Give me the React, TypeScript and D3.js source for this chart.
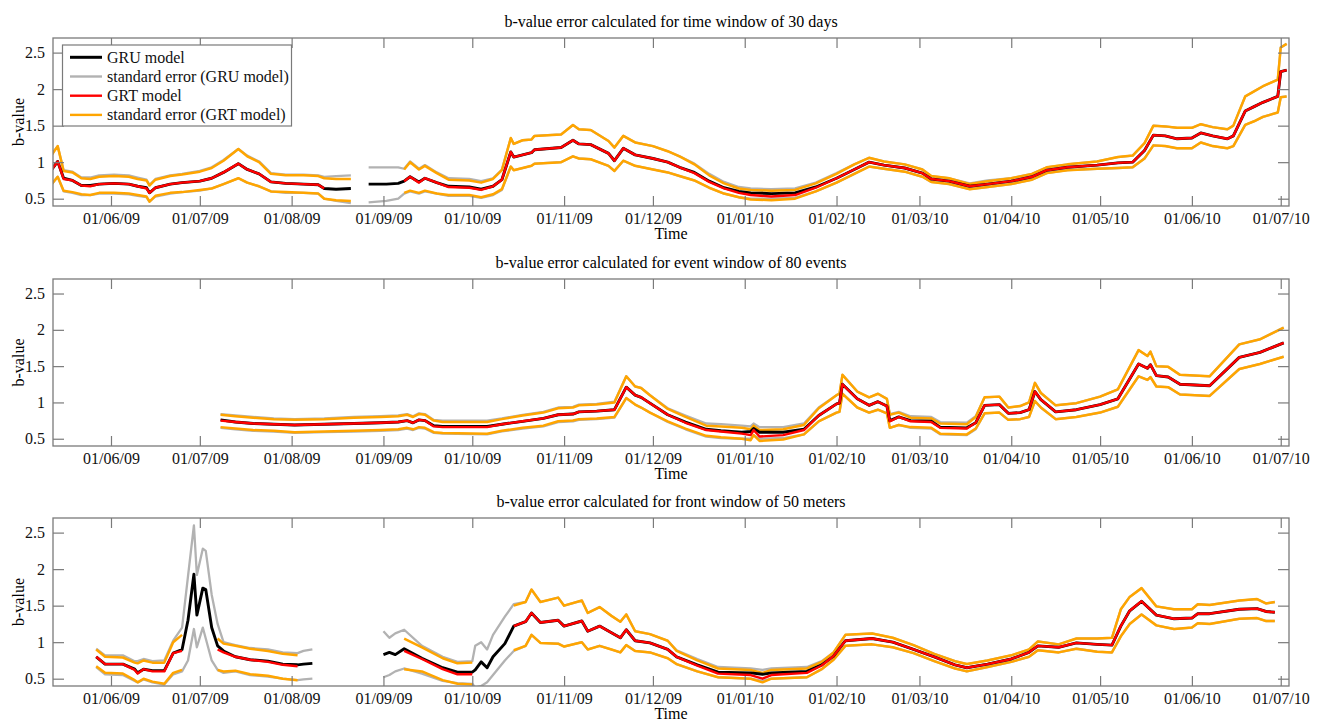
import React, { useEffect, useRef } from "react";
import * as d3 from "d3";

// x tick labels (dd/mm/yy) and y ticks shared by the three panels
const xTickLabels = ["01/06/09", "01/07/09", "01/08/09", "01/09/09", "01/10/09", "01/11/09", "01/12/09",
  "01/01/10", "01/02/10", "01/03/10", "01/04/10", "01/05/10", "01/06/10", "01/07/10"];
const yTicks = [0.5, 1, 1.5, 2, 2.5];
const titles = [
  "b-value error calculated for time window of 30 days",
  "b-value error calculated for event window of 80 events",
  "b-value error calculated for front window of 50 meters",
];
const legendLabels = ["GRU model", "standard error (GRU model)", "GRT model", "standard error (GRT model)"];

// ---------- panel 1 : time window of 30 days ----------
const p1Dates = [
  "2009-05-12", "2009-05-14", "2009-05-16", "2009-05-19", "2009-05-22", "2009-05-25", "2009-05-28", "2009-06-02", "2009-06-07", "2009-06-10",
  "2009-06-13", "2009-06-14", "2009-06-16", "2009-06-21", "2009-06-25", "2009-07-01", "2009-07-05", "2009-07-09", "2009-07-14", "2009-07-17",
  "2009-07-21", "2009-07-25", "2009-07-30", "2009-08-05", "2009-08-10", "2009-08-12", "2009-08-16", "2009-08-21", "2009-08-24", "2009-08-27",
  "2009-09-02", "2009-09-06", "2009-09-08", "2009-09-10", "2009-09-13", "2009-09-15", "2009-09-19", "2009-09-23", "2009-09-30", "2009-10-04",
  "2009-10-08", "2009-10-11", "2009-10-14", "2009-10-15", "2009-10-18", "2009-10-21", "2009-10-22", "2009-10-31", "2009-11-04", "2009-11-06",
  "2009-11-10", "2009-11-16", "2009-11-18", "2009-11-21", "2009-11-25", "2009-12-01", "2009-12-06", "2009-12-10", "2009-12-15", "2009-12-20",
  "2009-12-25", "2009-12-30", "2010-01-03", "2010-01-10", "2010-01-18", "2010-01-25", "2010-02-01", "2010-02-07", "2010-02-12", "2010-02-17",
  "2010-02-24", "2010-03-02", "2010-03-05", "2010-03-11", "2010-03-18", "2010-03-24", "2010-04-01", "2010-04-08", "2010-04-13", "2010-04-20",
  "2010-04-30", "2010-05-07", "2010-05-12", "2010-05-16", "2010-05-19", "2010-05-23", "2010-05-27", "2010-06-01", "2010-06-04", "2010-06-08",
  "2010-06-13", "2010-06-15", "2010-06-19", "2010-06-22", "2010-06-25", "2010-06-30", "2010-07-01", "2010-07-03",
];
const p1Grt = [
  0.90, 1.01, 0.77, 0.75, 0.68, 0.67, 0.70, 0.71, 0.70, 0.67,
  0.64, 0.58, 0.65, 0.70, 0.72, 0.74, 0.78, 0.86, 0.98, 0.90,
  0.84, 0.73, 0.71, 0.70, 0.69, 0.64, null, null, null, null,
  null, null, 0.74, 0.80, 0.72, 0.78, 0.72, 0.66, 0.65, 0.62,
  0.67, 0.76, 1.14, 1.07, 1.10, 1.13, 1.17, 1.20, 1.30, 1.25,
  1.24, 1.12, 1.02, 1.19, 1.10, 1.05, 1.00, 0.93, 0.85, 0.73,
  0.64, 0.58, 0.55, 0.53, 0.55, 0.65, 0.78, 0.90, 1.00, 0.96,
  0.92, 0.85, 0.77, 0.74, 0.67, 0.70, 0.74, 0.80, 0.89, 0.93,
  0.96, 0.99, 1.00, 1.16, 1.37, 1.36, 1.32, 1.33, 1.40, 1.36,
  1.32, 1.36, 1.70, 1.76, 1.82, 1.90, 2.24, 2.26,
];
const p1GrtHi = [
  1.10, 1.22, 0.88, 0.86, 0.78, 0.77, 0.80, 0.81, 0.80, 0.77,
  0.75, 0.68, 0.76, 0.81, 0.83, 0.87, 0.92, 1.02, 1.18, 1.08,
  1.00, 0.84, 0.82, 0.82, 0.81, 0.78, 0.77, 0.77, null, null,
  null, null, 0.90, 1.00, 0.90, 0.95, 0.85, 0.76, 0.75, 0.72,
  0.77, 0.89, 1.33, 1.25, 1.30, 1.31, 1.36, 1.38, 1.51, 1.45,
  1.44, 1.29, 1.20, 1.36, 1.27, 1.22, 1.15, 1.08, 0.97, 0.82,
  0.71, 0.64, 0.62, 0.61, 0.62, 0.71, 0.84, 0.97, 1.06, 1.01,
  0.97, 0.90, 0.81, 0.78, 0.70, 0.74, 0.78, 0.84, 0.93, 0.97,
  1.01, 1.07, 1.09, 1.26, 1.50, 1.49, 1.47, 1.47, 1.52, 1.48,
  1.45, 1.50, 1.90, 1.97, 2.04, 2.13, 2.57, 2.62,
];
const p1GrtLo = [
  0.70, 0.80, 0.61, 0.59, 0.56, 0.55, 0.58, 0.58, 0.57, 0.55,
  0.53, 0.46, 0.54, 0.58, 0.59, 0.62, 0.64, 0.70, 0.78, 0.72,
  0.67, 0.60, 0.59, 0.58, 0.57, 0.50, 0.48, 0.47, null, null,
  null, null, 0.58, 0.61, 0.58, 0.61, 0.57, 0.55, 0.55, 0.52,
  0.56, 0.63, 0.94, 0.89, 0.92, 0.95, 0.98, 1.00, 1.08, 1.05,
  1.04, 0.95, 0.88, 1.02, 0.95, 0.90, 0.86, 0.81, 0.75, 0.65,
  0.57, 0.52, 0.49, 0.48, 0.50, 0.60, 0.72, 0.84, 0.94, 0.91,
  0.87, 0.80, 0.73, 0.70, 0.63, 0.66, 0.70, 0.76, 0.85, 0.89,
  0.91, 0.92, 0.93, 1.05, 1.23, 1.22, 1.19, 1.19, 1.27, 1.22,
  1.19, 1.22, 1.51, 1.56, 1.62, 1.68, 1.89, 1.90,
];
const p1Gru = [
  0.90, 1.01, 0.78, 0.75, 0.68, 0.68, 0.70, 0.71, 0.70, 0.67,
  0.65, 0.58, 0.65, 0.70, 0.72, 0.74, 0.78, 0.86, 0.98, 0.90,
  0.84, 0.73, 0.71, 0.70, 0.69, 0.64, 0.63, 0.64, null, 0.70,
  0.70, 0.71, 0.74, 0.80, 0.73, 0.78, 0.72, 0.67, 0.66, 0.63,
  0.67, 0.76, 1.14, 1.07, 1.10, 1.13, 1.17, 1.20, 1.30, 1.25,
  1.24, 1.12, 1.02, 1.19, 1.10, 1.05, 1.00, 0.93, 0.86, 0.74,
  0.65, 0.60, 0.58, 0.57, 0.58, 0.66, 0.78, 0.90, 1.00, 0.96,
  0.92, 0.85, 0.77, 0.74, 0.67, 0.70, 0.74, 0.80, 0.89, 0.93,
  0.96, 0.99, 1.00, 1.16, 1.37, 1.36, 1.32, 1.33, 1.40, 1.36,
  1.32, 1.36, 1.70, 1.76, 1.82, 1.90, 2.24, 2.26,
];
const p1GruHi = [
  1.11, 1.22, 0.89, 0.87, 0.79, 0.79, 0.82, 0.83, 0.82, 0.79,
  0.76, 0.69, 0.77, 0.82, 0.84, 0.88, 0.93, 1.03, 1.18, 1.09,
  1.01, 0.85, 0.83, 0.83, 0.82, 0.80, 0.81, 0.82, null, 0.93,
  0.93, 0.93, 0.91, 1.01, 0.91, 0.96, 0.86, 0.78, 0.77, 0.74,
  0.78, 0.90, 1.33, 1.25, 1.30, 1.31, 1.36, 1.38, 1.51, 1.45,
  1.44, 1.29, 1.20, 1.36, 1.27, 1.22, 1.15, 1.08, 0.98, 0.84,
  0.73, 0.66, 0.64, 0.63, 0.64, 0.72, 0.85, 0.97, 1.06, 1.01,
  0.97, 0.90, 0.81, 0.78, 0.71, 0.75, 0.78, 0.84, 0.93, 0.97,
  1.01, 1.07, 1.09, 1.26, 1.50, 1.49, 1.47, 1.47, 1.52, 1.48,
  1.45, 1.50, 1.90, 1.97, 2.04, 2.13, 2.57, 2.62,
];
const p1GruLo = [
  0.70, 0.80, 0.60, 0.58, 0.55, 0.55, 0.57, 0.57, 0.56, 0.54,
  0.52, 0.46, 0.53, 0.57, 0.59, 0.61, 0.64, 0.70, 0.78, 0.72,
  0.67, 0.60, 0.58, 0.58, 0.57, 0.50, 0.47, 0.44, null, 0.45,
  0.47, 0.50, 0.57, 0.60, 0.57, 0.60, 0.57, 0.54, 0.54, 0.51,
  0.55, 0.62, 0.94, 0.89, 0.92, 0.95, 0.98, 1.00, 1.08, 1.05,
  1.04, 0.95, 0.88, 1.02, 0.95, 0.90, 0.86, 0.81, 0.75, 0.65,
  0.57, 0.52, 0.50, 0.50, 0.51, 0.60, 0.72, 0.84, 0.94, 0.91,
  0.87, 0.80, 0.73, 0.70, 0.63, 0.66, 0.70, 0.76, 0.85, 0.89,
  0.91, 0.92, 0.93, 1.05, 1.23, 1.22, 1.19, 1.19, 1.27, 1.22,
  1.19, 1.22, 1.51, 1.56, 1.62, 1.68, 1.89, 1.90,
];

// ---------- panel 2 : event window of 80 events ----------
const p2Dates = [
  "2009-07-08", "2009-07-13", "2009-07-19", "2009-07-26", "2009-08-02", "2009-08-12", "2009-08-22", "2009-08-31", "2009-09-06", "2009-09-09",
  "2009-09-11", "2009-09-13", "2009-09-15", "2009-09-18", "2009-09-21", "2009-10-06", "2009-10-11", "2009-10-18", "2009-10-25", "2009-10-30",
  "2009-11-04", "2009-11-06", "2009-11-12", "2009-11-18", "2009-11-22", "2009-11-25", "2009-11-27", "2009-11-30", "2009-12-06", "2009-12-12",
  "2009-12-19", "2009-12-24", "2009-12-31", "2010-01-03", "2010-01-04", "2010-01-06", "2010-01-14", "2010-01-21", "2010-01-26", "2010-02-01",
  "2010-02-02", "2010-02-03", "2010-02-08", "2010-02-12", "2010-02-15", "2010-02-18", "2010-02-19", "2010-02-22", "2010-02-26", "2010-03-05",
  "2010-03-08", "2010-03-17", "2010-03-20", "2010-03-23", "2010-03-28", "2010-03-31", "2010-04-04", "2010-04-07", "2010-04-09", "2010-04-11",
  "2010-04-16", "2010-04-23", "2010-05-01", "2010-05-07", "2010-05-14", "2010-05-17", "2010-05-18", "2010-05-20", "2010-05-24", "2010-05-28",
  "2010-06-07", "2010-06-17", "2010-06-24", "2010-07-02",
];
const p2Grt = [
  0.75, 0.73, 0.71, 0.70, 0.69, 0.70, 0.71, 0.72, 0.73, 0.75,
  0.72, 0.76, 0.75, 0.67, 0.66, 0.66, 0.70, 0.74, 0.78, 0.83,
  0.84, 0.87, 0.88, 0.90, 1.21, 1.10, 1.07, 0.99, 0.83, 0.72,
  0.62, 0.60, 0.57, 0.55, 0.62, 0.53, 0.55, 0.62, 0.82, 0.98,
  0.99, 1.25, 1.05, 0.96, 1.01, 0.95, 0.74, 0.80, 0.74, 0.73,
  0.65, 0.64, 0.72, 0.96, 0.97, 0.85, 0.86, 0.90, 1.15, 1.04,
  0.87, 0.90, 0.97, 1.05, 1.53, 1.47, 1.52, 1.37, 1.35, 1.25,
  1.23, 1.62, 1.69, 1.82,
];
const p2GrtHi = [
  0.83, 0.81, 0.79, 0.77, 0.76, 0.77, 0.79, 0.80, 0.81, 0.83,
  0.80, 0.84, 0.83, 0.75, 0.73, 0.73, 0.77, 0.82, 0.86, 0.92,
  0.93, 0.96, 0.97, 1.00, 1.36, 1.22, 1.20, 1.10, 0.91, 0.80,
  0.68, 0.67, 0.65, 0.63, 0.68, 0.62, 0.63, 0.69, 0.92, 1.10,
  1.12, 1.38, 1.15, 1.07, 1.12, 1.05, 0.83, 0.86, 0.79, 0.78,
  0.71, 0.70, 0.80, 1.07, 1.08, 0.93, 0.95, 1.00, 1.27, 1.13,
  0.96, 0.99, 1.08, 1.18, 1.72, 1.64, 1.70, 1.50, 1.49, 1.38,
  1.36, 1.80, 1.87, 2.03,
];
const p2GrtLo = [
  0.66, 0.64, 0.62, 0.61, 0.59, 0.60, 0.61, 0.62, 0.63, 0.65,
  0.63, 0.66, 0.65, 0.59, 0.58, 0.57, 0.61, 0.65, 0.68, 0.74,
  0.75, 0.77, 0.78, 0.80, 1.06, 0.97, 0.93, 0.86, 0.74, 0.64,
  0.54, 0.52, 0.50, 0.48, 0.55, 0.47, 0.49, 0.56, 0.74, 0.86,
  0.87, 1.12, 0.93, 0.86, 0.90, 0.85, 0.65, 0.69, 0.66, 0.65,
  0.57, 0.56, 0.64, 0.85, 0.86, 0.76, 0.77, 0.80, 1.02, 0.93,
  0.77, 0.80, 0.86, 0.94, 1.36, 1.31, 1.35, 1.22, 1.21, 1.11,
  1.09, 1.46, 1.53, 1.63,
];
const p2Gru = [
  0.76, 0.73, 0.71, 0.70, 0.69, 0.70, 0.71, 0.72, 0.73, 0.75,
  0.72, 0.76, 0.75, 0.68, 0.67, 0.67, 0.70, 0.74, 0.78, 0.83,
  0.84, 0.87, 0.88, 0.90, 1.21, 1.10, 1.07, 0.99, 0.83, 0.73,
  0.63, 0.61, 0.59, 0.60, 0.64, 0.59, 0.59, 0.63, 0.82, 0.98,
  0.99, 1.25, 1.05, 0.96, 1.01, 0.95, 0.75, 0.80, 0.75, 0.74,
  0.66, 0.65, 0.72, 0.96, 0.97, 0.85, 0.86, 0.90, 1.15, 1.04,
  0.87, 0.90, 0.97, 1.05, 1.53, 1.47, 1.52, 1.37, 1.35, 1.25,
  1.23, 1.62, 1.69, 1.82,
];
const p2GruHi = [
  0.84, 0.82, 0.80, 0.78, 0.77, 0.78, 0.80, 0.81, 0.82, 0.84,
  0.81, 0.85, 0.84, 0.76, 0.75, 0.75, 0.78, 0.83, 0.87, 0.93,
  0.94, 0.97, 0.98, 1.01, 1.36, 1.22, 1.20, 1.10, 0.92, 0.82,
  0.71, 0.70, 0.68, 0.67, 0.71, 0.66, 0.66, 0.71, 0.93, 1.10,
  1.12, 1.38, 1.15, 1.07, 1.12, 1.05, 0.84, 0.87, 0.81, 0.80,
  0.73, 0.72, 0.81, 1.07, 1.08, 0.93, 0.95, 1.00, 1.27, 1.13,
  0.96, 0.99, 1.08, 1.18, 1.72, 1.64, 1.70, 1.50, 1.49, 1.38,
  1.36, 1.80, 1.87, 2.03,
];
const p2GruLo = [
  0.65, 0.63, 0.61, 0.60, 0.58, 0.59, 0.60, 0.61, 0.62, 0.64,
  0.62, 0.65, 0.64, 0.58, 0.57, 0.56, 0.60, 0.64, 0.67, 0.73,
  0.74, 0.76, 0.77, 0.79, 1.06, 0.97, 0.93, 0.86, 0.73, 0.63,
  0.53, 0.51, 0.50, 0.50, 0.55, 0.50, 0.51, 0.56, 0.74, 0.86,
  0.87, 1.12, 0.93, 0.86, 0.90, 0.85, 0.65, 0.69, 0.65, 0.64,
  0.56, 0.55, 0.63, 0.85, 0.86, 0.76, 0.77, 0.80, 1.02, 0.93,
  0.77, 0.80, 0.86, 0.94, 1.36, 1.31, 1.35, 1.22, 1.21, 1.11,
  1.09, 1.46, 1.53, 1.63,
];

// ---------- panel 3 : front window of 50 meters ----------
const p3Dates = [
  "2009-05-27", "2009-05-30", "2009-06-05", "2009-06-09", "2009-06-10", "2009-06-12", "2009-06-15", "2009-06-19", "2009-06-22", "2009-06-25",
  "2009-06-27", "2009-06-29", "2009-06-30", "2009-07-02", "2009-07-03", "2009-07-05", "2009-07-07", "2009-07-09", "2009-07-13", "2009-07-18",
  "2009-07-24", "2009-07-29", "2009-08-03", "2009-08-05", "2009-08-08", "2009-08-20", "2009-09-01", "2009-09-03", "2009-09-05", "2009-09-08",
  "2009-09-14", "2009-09-21", "2009-09-26", "2009-10-01", "2009-10-02", "2009-10-04", "2009-10-06", "2009-10-08", "2009-10-12", "2009-10-15",
  "2009-10-19", "2009-10-21", "2009-10-24", "2009-10-30", "2009-11-01", "2009-11-07", "2009-11-09", "2009-11-13", "2009-11-17", "2009-11-20",
  "2009-11-22", "2009-11-25", "2009-11-30", "2009-12-06", "2009-12-09", "2009-12-16", "2009-12-23", "2010-01-03", "2010-01-07", "2010-01-10",
  "2010-01-22", "2010-01-27", "2010-01-31", "2010-02-04", "2010-02-13", "2010-02-20", "2010-02-27", "2010-03-06", "2010-03-13", "2010-03-17",
  "2010-03-24", "2010-04-01", "2010-04-07", "2010-04-10", "2010-04-17", "2010-04-23", "2010-04-30", "2010-05-05", "2010-05-08", "2010-05-11",
  "2010-05-15", "2010-05-20", "2010-05-26", "2010-06-01", "2010-06-03", "2010-06-07", "2010-06-17", "2010-06-23", "2010-06-26", "2010-06-29",
];
const p3Grt = [
  0.80, 0.70, 0.70, 0.62, 0.57, 0.63, 0.60, 0.60, 0.85, 0.88,
  null, null, null, null, null, null, 0.90, 0.86, 0.80, 0.76,
  0.73, 0.69, 0.67, null, null, null, null, null, null, 0.88,
  0.77, 0.63, 0.56, 0.56, null, null, null, null, null, 1.22,
  1.28, 1.40, 1.27, 1.30, 1.22, 1.29, 1.15, 1.22, 1.13, 1.06,
  1.17, 1.02, 0.99, 0.90, 0.80, 0.68, 0.57, 0.55, 0.50, 0.55,
  0.58, 0.68, 0.81, 1.02, 1.05, 1.00, 0.90, 0.80, 0.69, 0.65,
  0.70, 0.77, 0.86, 0.95, 0.93, 0.99, 0.97, 0.96, 1.22, 1.43,
  1.56, 1.37, 1.32, 1.33, 1.39, 1.39, 1.45, 1.46, 1.42, 1.41,
];
const p3GrtHi = [
  0.90, 0.80, 0.79, 0.72, 0.71, 0.75, 0.72, 0.72, 1.00, 1.10,
  null, null, null, null, null, null, 1.05, 0.98, 0.95, 0.91,
  0.88, 0.84, 0.82, null, null, null, null, null, null, 1.05,
  0.93, 0.78, 0.71, 0.72, null, null, null, null, null, 1.50,
  1.55, 1.72, 1.55, 1.61, 1.50, 1.57, 1.40, 1.48, 1.36, 1.28,
  1.38, 1.15, 1.11, 1.02, 0.88, 0.75, 0.64, 0.62, 0.58, 0.62,
  0.64, 0.73, 0.86, 1.10, 1.12, 1.06, 0.96, 0.84, 0.74, 0.70,
  0.75, 0.82, 0.90, 1.01, 0.97, 1.05, 1.05, 1.06, 1.45, 1.62,
  1.74, 1.49, 1.45, 1.45, 1.52, 1.51, 1.57, 1.59, 1.53, 1.55,
];
const p3GrtLo = [
  0.67, 0.58, 0.57, 0.48, 0.45, 0.50, 0.46, 0.43, 0.58, 0.62,
  null, null, null, null, null, null, 0.62, 0.60, 0.61, 0.56,
  0.54, 0.50, 0.48, null, null, null, null, null, null, 0.63,
  0.60, 0.48, 0.43, 0.42, null, null, null, null, null, 0.89,
  0.95, 1.10, 0.99, 0.98, 0.94, 1.00, 0.90, 0.95, 0.90, 0.86,
  0.96, 0.88, 0.86, 0.78, 0.70, 0.60, 0.52, 0.50, 0.45, 0.50,
  0.52, 0.63, 0.76, 0.95, 0.97, 0.93, 0.85, 0.74, 0.64, 0.60,
  0.66, 0.73, 0.80, 0.89, 0.86, 0.91, 0.87, 0.86, 1.08, 1.25,
  1.38, 1.23, 1.18, 1.20, 1.26, 1.25, 1.32, 1.33, 1.29, 1.29,
];
const p3Gru = [
  0.80, 0.70, 0.70, 0.63, 0.58, 0.63, 0.61, 0.61, 0.85, 0.90,
  1.30, 1.93, 1.37, 1.74, 1.72, 1.20, 0.95, 0.88, 0.80, 0.76,
  0.74, 0.70, 0.69, 0.70, 0.71, null, 0.83, 0.86, 0.83, 0.91,
  0.78, 0.65, 0.59, 0.59, 0.62, 0.73, 0.65, 0.80, 0.98, 1.22,
  1.28, 1.40, 1.27, 1.30, 1.22, 1.29, 1.15, 1.22, 1.13, 1.06,
  1.17, 1.02, 0.99, 0.90, 0.80, 0.69, 0.59, 0.58, 0.56, 0.58,
  0.60, 0.69, 0.81, 1.02, 1.05, 1.00, 0.90, 0.80, 0.69, 0.65,
  0.70, 0.77, 0.86, 0.95, 0.93, 0.99, 0.97, 0.96, 1.22, 1.43,
  1.56, 1.37, 1.32, 1.33, 1.39, 1.39, 1.45, 1.46, 1.42, 1.41,
];
const p3GruHi = [
  0.91, 0.82, 0.82, 0.74, 0.74, 0.77, 0.74, 0.75, 1.02, 1.20,
  1.90, 2.60, 1.92, 2.28, 2.25, 1.65, 1.25, 1.00, 0.96, 0.92,
  0.90, 0.86, 0.85, 0.88, 0.90, null, 1.15, 1.06, 1.12, 1.17,
  0.95, 0.80, 0.73, 0.74, 0.95, 1.00, 0.90, 1.10, 1.35, 1.52,
  1.55, 1.72, 1.55, 1.61, 1.50, 1.57, 1.40, 1.48, 1.36, 1.28,
  1.38, 1.15, 1.11, 1.02, 0.89, 0.77, 0.66, 0.64, 0.62, 0.64,
  0.66, 0.74, 0.86, 1.10, 1.12, 1.06, 0.96, 0.84, 0.74, 0.70,
  0.75, 0.82, 0.90, 1.01, 0.97, 1.05, 1.05, 1.06, 1.45, 1.62,
  1.74, 1.49, 1.45, 1.45, 1.52, 1.51, 1.57, 1.59, 1.53, 1.55,
];
const p3GruLo = [
  0.66, 0.56, 0.55, 0.47, 0.45, 0.49, 0.45, 0.42, 0.56, 0.60,
  0.75, 1.18, 0.93, 1.20, 1.05, 0.75, 0.62, 0.58, 0.60, 0.55,
  0.53, 0.50, 0.48, 0.49, 0.50, null, 0.52, 0.55, 0.60, 0.64,
  0.57, 0.47, 0.44, 0.43, 0.38, 0.40, 0.45, 0.55, 0.75, 0.88,
  0.95, 1.10, 0.99, 0.98, 0.94, 1.00, 0.90, 0.95, 0.90, 0.86,
  0.96, 0.88, 0.86, 0.78, 0.70, 0.60, 0.52, 0.50, 0.47, 0.50,
  0.52, 0.63, 0.76, 0.95, 0.97, 0.93, 0.85, 0.74, 0.64, 0.60,
  0.66, 0.73, 0.80, 0.89, 0.86, 0.91, 0.87, 0.86, 1.08, 1.25,
  1.38, 1.23, 1.18, 1.20, 1.26, 1.25, 1.32, 1.33, 1.29, 1.29,
];

const FONT = "'Times New Roman', 'Liberation Serif', serif";
const AXIS = "#7a7a7a";
const GRAY = "#b2b2b2";
const ORANGE = "#ffa500";
const RED = "#ff0000";

const App = () => {
  const svgRef = useRef<SVGSVGElement>(null);

  useEffect(() => {
    const svg = d3.select(svgRef.current);
    svg.selectAll("*").remove();

    const parseDay = d3.timeParse("%Y-%m-%d");
    const parseTick = d3.timeParse("%d/%m/%y");
    const tickDates = xTickLabels.map((s) => parseTick(s) as Date);

    const left = 53, right = 1289;
    const x = d3.scaleTime()
      .domain([new Date(2009, 4, 12, 10), new Date(2010, 6, 3, 19)])
      .range([left, right]);

    const panels = [
      { top: 38, bottom: 206, dates: p1Dates, gru: p1Gru, gruHi: p1GruHi, gruLo: p1GruLo, grt: p1Grt, grtHi: p1GrtHi, grtLo: p1GrtLo },
      { top: 279, bottom: 446, dates: p2Dates, gru: p2Gru, gruHi: p2GruHi, gruLo: p2GruLo, grt: p2Grt, grtHi: p2GrtHi, grtLo: p2GrtLo },
      { top: 518, bottom: 686, dates: p3Dates, gru: p3Gru, gruHi: p3GruHi, gruLo: p3GruLo, grt: p3Grt, grtHi: p3GrtHi, grtLo: p3GrtLo },
    ];

    panels.forEach((p, i) => {
      const y = d3.scaleLinear().domain([0.4, 2.7]).range([p.bottom, p.top]);
      const g = svg.append("g");
      const dates = p.dates.map((s) => parseDay(s) as Date);

      // clip the curves to the plot box
      g.append("clipPath")
        .attr("id", `clip${i}`)
        .append("rect")
        .attr("x", left)
        .attr("y", p.top)
        .attr("width", right - left)
        .attr("height", p.bottom - p.top);

      const line = d3.line<number | null>()
        .defined((d) => d != null)
        .x((d, k) => x(dates[k]))
        .y((d) => y(d as number));

      const series = [
        { v: p.gruHi, color: GRAY, w: 2.3 },
        { v: p.gruLo, color: GRAY, w: 2.3 },
        { v: p.grtHi, color: ORANGE, w: 2.5 },
        { v: p.grtLo, color: ORANGE, w: 2.5 },
        { v: p.gru, color: "#000", w: 2.9 },
        { v: p.grt, color: RED, w: 2.4 },
      ];
      const lines = g.append("g").attr("clip-path", `url(#clip${i})`);
      series.forEach((s) => {
        lines.append("path")
          .attr("d", line(s.v))
          .attr("fill", "none")
          .attr("stroke", s.color)
          .attr("stroke-width", s.w)
          .attr("stroke-linejoin", "round");
      });

      // axes: ticks point inward, box drawn separately
      const styleAxis = (a) => {
        a.select(".domain").remove();
        a.selectAll("line").attr("stroke", AXIS).attr("stroke-width", 1.2);
        a.attr("font-family", FONT).attr("font-size", 16);
        a.selectAll("text").attr("fill", "#111");
      };
      g.append("g")
        .attr("transform", `translate(0,${p.bottom})`)
        .call(d3.axisBottom(x).tickValues(tickDates).tickFormat(d3.timeFormat("%d/%m/%y")).tickSize(-10).tickPadding(7))
        .call(styleAxis);
      g.append("g")
        .attr("transform", `translate(0,${p.top})`)
        .call(d3.axisTop(x).tickValues(tickDates).tickFormat(() => "").tickSize(-10))
        .call(styleAxis);
      g.append("g")
        .attr("transform", `translate(${left},0)`)
        .call(d3.axisLeft(y).tickValues(yTicks).tickFormat(d3.format("")).tickSize(-11).tickPadding(8))
        .call(styleAxis);
      g.append("g")
        .attr("transform", `translate(${right},0)`)
        .call(d3.axisRight(y).tickValues(yTicks).tickFormat(() => "").tickSize(-11))
        .call(styleAxis);

      g.append("rect")
        .attr("x", left)
        .attr("y", p.top)
        .attr("width", right - left)
        .attr("height", p.bottom - p.top)
        .attr("fill", "none")
        .attr("stroke", AXIS)
        .attr("stroke-width", 1.3);

      // title, x label, y label
      g.append("text")
        .attr("x", (left + right) / 2)
        .attr("y", p.top - 11.5)
        .attr("text-anchor", "middle")
        .attr("font-family", FONT)
        .attr("font-size", 16)
        .text(titles[i]);
      g.append("text")
        .attr("x", (left + right) / 2)
        .attr("y", p.bottom + 33)
        .attr("text-anchor", "middle")
        .attr("font-family", FONT)
        .attr("font-size", 16)
        .text("Time");
      g.append("text")
        .attr("transform", `translate(24,${(p.top + p.bottom) / 2}) rotate(-90)`)
        .attr("text-anchor", "middle")
        .attr("font-family", FONT)
        .attr("font-size", 16)
        .text("b-value");
    });

    // legend (first panel only)
    const lg = svg.append("g");
    lg.append("rect")
      .attr("x", 62.5)
      .attr("y", 45)
      .attr("width", 229)
      .attr("height", 81)
      .attr("fill", "#fff")
      .attr("stroke", AXIS)
      .attr("stroke-width", 1.2);
    const legendColors = ["#000", GRAY, RED, ORANGE];
    legendLabels.forEach((label, k) => {
      const ly = 57.3 + k * 19.2;
      lg.append("line")
        .attr("x1", 70)
        .attr("x2", 102)
        .attr("y1", ly)
        .attr("y2", ly)
        .attr("stroke", legendColors[k])
        .attr("stroke-width", k === 0 ? 3 : 2.4);
      lg.append("text")
        .attr("x", 107)
        .attr("y", ly + 5.5)
        .attr("font-family", FONT)
        .attr("font-size", 16)
        .attr("fill", "#111")
        .text(label);
    });
  }, []);

  return (
    <svg
      ref={svgRef}
      width={1320}
      height={722}
      style={{ position: "absolute", left: 0, top: 0, background: "#fff" }}
    ></svg>
  );
};

export default App;
